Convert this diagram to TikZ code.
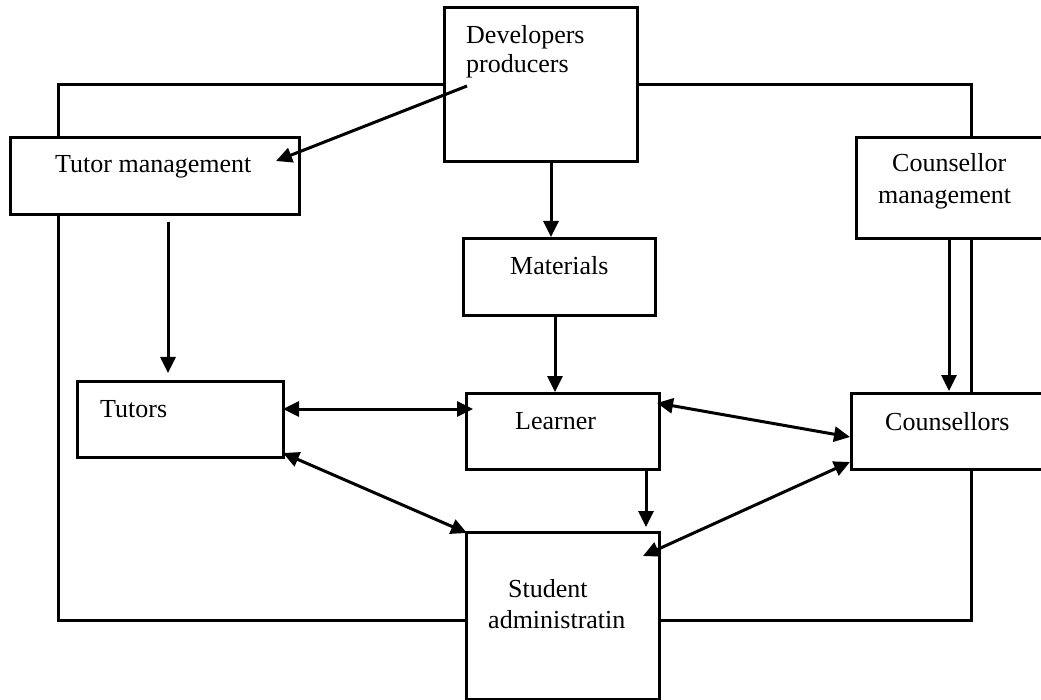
\documentclass[tikz,border=0pt]{standalone}
\usepackage{fontspec}
\setmainfont{Liberation Serif}
\usetikzlibrary{arrows.meta,calc}
\begin{document}
\begin{tikzpicture}[x=1pt,y=-1pt,
  box/.style={draw,line width=3pt,rectangle,inner sep=0pt,outer sep=0pt},
  lbl/.style={inner sep=0pt,anchor=base west,font=\fontsize{26}{30}\selectfont},
  frame/.style={line width=3pt},
  arr/.style={line width=3pt,-{Triangle[length=16pt,width=15pt]}},
  darr/.style={line width=3pt,{Triangle[length=16pt,width=15pt]}-{Triangle[length=16pt,width=15pt]}}]
\useasboundingbox (0,0) rectangle (1041,700);
\clip (0,0) rectangle (1041,700);

% boxes
\node[box,minimum width=193pt,minimum height=154pt] (dev) at (540.5,85) {};
\node[box,minimum width=289pt,minimum height=77pt]  (tm)  at (154.5,176.5) {};
\node[box,minimum width=214pt,minimum height=101pt] (cm)  at (963,188.5) {};
\node[box,minimum width=192pt,minimum height=77pt]  (mat) at (559,277.5) {};
\node[box,minimum width=206pt,minimum height=76pt]  (tut) at (180,419) {};
\node[box,minimum width=193pt,minimum height=76pt]  (lrn) at (562.5,431) {};
\node[box,minimum width=219pt,minimum height=76pt]  (cou) at (960.5,431) {};
\node[box,minimum width=193pt,minimum height=167pt] (sa)  at (562.5,615.5) {};

% labels
\node[lbl] (dev1) at (466,44) {Developers};
\node[lbl] (dev2) at (466,73) {producers};
\node[lbl] (tm1)  at (55,173) {Tutor management};
\node[lbl] (cm1)  at (892,172) {Counsellor};
\node[lbl] (cm2)  at (878,204) {management};
\node[lbl] (mat1) at (510,275) {Materials};
\node[lbl] (tut1) at (100,417) {Tutors};
\node[lbl] (lrn1) at (515,429) {Learner};
\node[lbl] (cou1) at (885,430) {Counsellors};
\node[lbl] (sa1)  at (508,597) {Student};
\node[lbl] (sa2)  at (488,628) {administratin};

% outer frame
\coordinate (nw) at (58,85);
\coordinate (ne) at (971,85);
\coordinate (sw) at (58,620);
\coordinate (se) at (971,620);
\draw[frame] (dev.west) -- (nw) -- (nw |- tm.north);
\draw[frame] (dev.east) -- (ne) -- (ne |- cm.north);
\draw[frame] (tm.south -| nw) -- (sw) -- (sw -| sa.west);
\draw[frame] (cm.south -| ne) -- (cou.north -| ne);
\draw[frame] (cou.south -| ne) -- (se) -- (se -| sa.east);

% one-way arrows
\draw[arr] ($(dev.west)+(23,1)$) -- ($(tm.east)+(-23,-15.5)$);
\draw[arr] ($(dev.south)+(10.5,0)$) -- ($(mat.north)+(-8,-2)$);
\draw[arr] ($(tm.south)+(13.5,7)$) -- ($(tut.north)+(-12,-8)$);
\draw[arr] ($(mat.south)+(-4,0)$) -- ($(lrn.north)+(-7.5,-1)$);
\draw[arr] ($(lrn.south)+(83.5,0)$) -- ($(sa.north)+(83.5,-5)$);
\draw[arr] ($(cm.south)+(-14,0)$) -- ($(cou.north)+(-11.5,-2)$);

% two-way arrows
\draw[darr] ($(tut.east)+(0,-10)$) -- ($(lrn.west)+(7,-22)$);
\draw[darr] ($(tut.east)+(0,34)$) -- ($(sa.north west)+(1,1)$);
\draw[darr] ($(lrn.east)+(-2,-28)$) -- ($(cou.west)+(-1,6)$);
\draw[darr] ($(sa.north east)+(-16,24)$) -- ($(cou.south west)+(-1,-7)$);
\end{tikzpicture}
\end{document}
